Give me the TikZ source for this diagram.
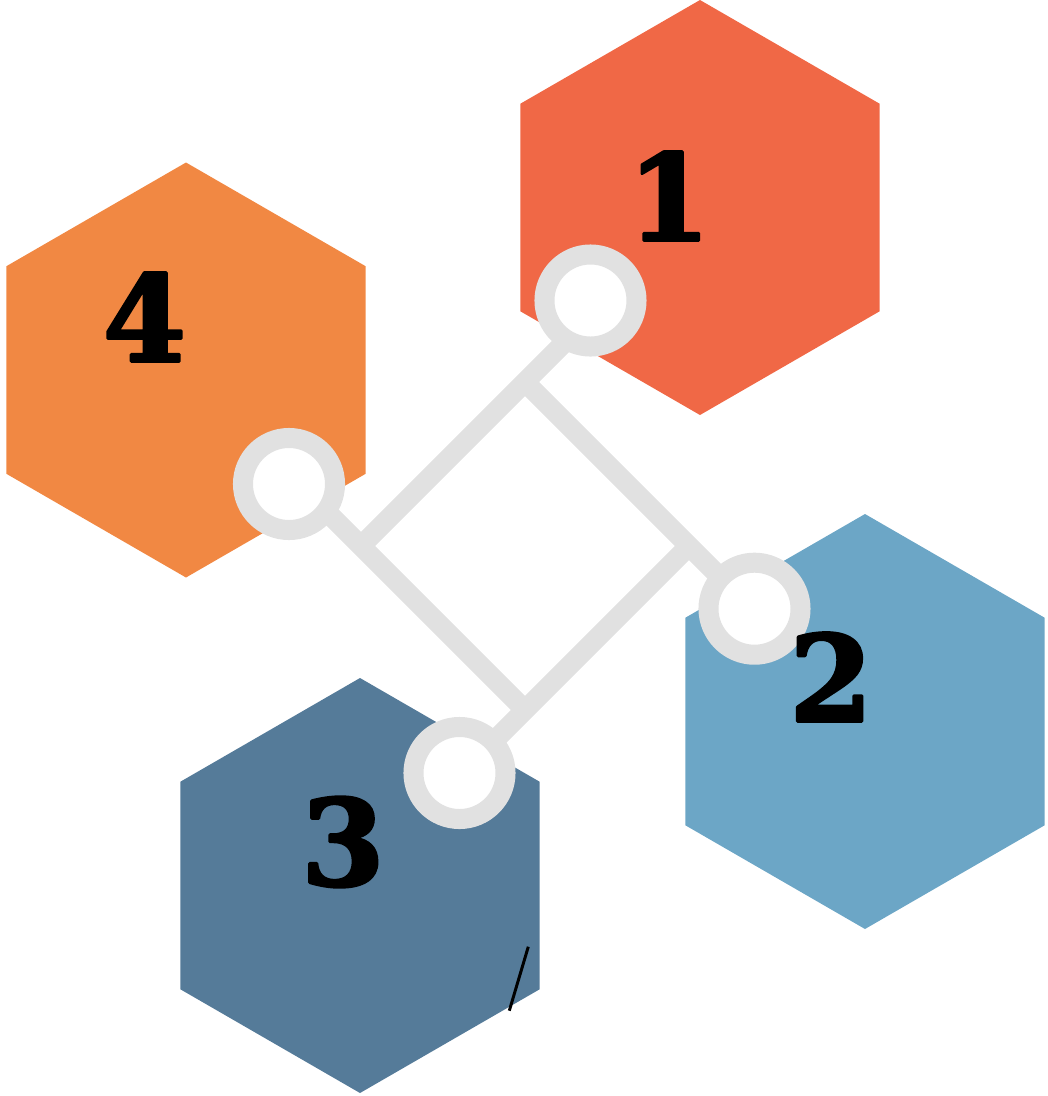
\documentclass[tikz,border=0pt]{standalone}
\usepackage{fontspec}
\newfontfamily\numfont{DejaVu Serif}[BoldFeatures={FakeBold=2.5}]
\definecolor{hexone}{HTML}{F06846}
\definecolor{hextwo}{HTML}{6CA6C6}
\definecolor{hexthree}{HTML}{557B99}
\definecolor{hexfour}{HTML}{F18843}
\definecolor{ringgray}{HTML}{E1E1E1}
\tikzset{
  bar/.style={draw=ringgray, line width=0.2cm, line cap=butt},
  ring/.style={circle, fill=white, draw=ringgray, line width=0.2cm, minimum size=0.92cm, inner sep=0pt},
  num/.style={font=\numfont\bfseries\fontsize{34}{34}\selectfont, text=black, inner sep=0pt}
}
\begin{document}
\begin{tikzpicture}[x=0.01cm, y=-0.01cm, line join=round]
	\useasboundingbox (0,0) rectangle (1048,1096);
	% hexagon centres
	\coordinate (H1) at (700,207.5);
	\coordinate (H2) at (865,721.5);
	\coordinate (H3) at (360,885.5);
	\coordinate (H4) at (186,370);
	\fill[hexone, shift={(H1)}] (30:207.5) -- (90:207.5) -- (150:207.5) -- (210:207.5) -- (270:207.5) -- (330:207.5) -- cycle;
	\fill[hextwo, shift={(H2)}] (30:207.5) -- (90:207.5) -- (150:207.5) -- (210:207.5) -- (270:207.5) -- (330:207.5) -- cycle;
	\fill[hexthree, shift={(H3)}] (30:207.5) -- (90:207.5) -- (150:207.5) -- (210:207.5) -- (270:207.5) -- (330:207.5) -- cycle;
	\fill[hexfour, shift={(H4)}] (30:207.5) -- (90:207.5) -- (150:207.5) -- (210:207.5) -- (270:207.5) -- (330:207.5) -- cycle;
	% square corners and bar ends
	\coordinate (T) at (525,382);
	\coordinate (R) at (689,546);
	\coordinate (B) at (525,710);
	\coordinate (L) at (361,546);
	\coordinate (E1) at (598.5,308.5);
	\coordinate (E2) at (753,610);
	\coordinate (E3) at (461,774);
	\coordinate (E4) at (294,479);
	\draw[bar] (L)--(E1) (T)--(E2) (R)--(E3) (B)--(E4);
	% rings
	\node[ring] (C1) at (590.5,300.5) {};
	\node[ring] (C2) at (754.5,608.7) {};
	\node[ring] (C3) at (459.5,773) {};
	\node[ring] (C4) at (289,484) {};
	% numbers
	\node[num] (N1) at (669,196) {1};
	\node[num] (N2) at (831,677) {2};
	\node[num] (N3) at (343,842) {3};
	\node[num] (N4) at (144.5,317) {4};
	% stray stroke
	\coordinate (S1) at (528.3,946.7);
	\coordinate (S2) at (509.3,1010.7);
	\draw[line width=0.85pt] (S1)--(S2);
\end{tikzpicture}
\end{document}
